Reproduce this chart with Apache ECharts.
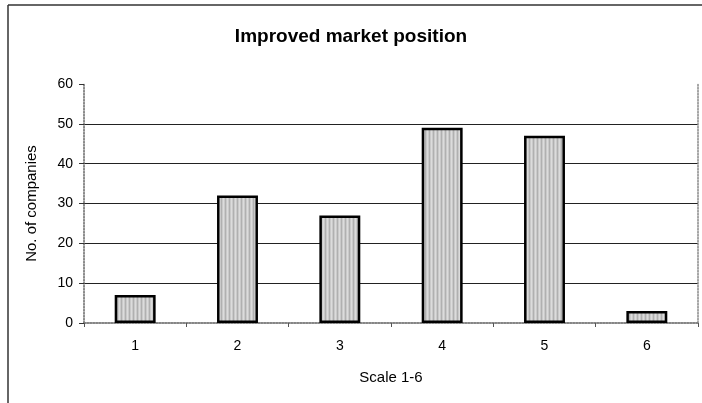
<!DOCTYPE html>
<html>
<head>
<meta charset="utf-8">
<script src="https://cdn.jsdelivr.net/npm/echarts@6/dist/echarts.min.js"></script>
<style>
html,body{margin:0;padding:0;background:#fff;}
#chart{width:702px;height:403px;}
</style>
</head>
<body>
<div id="chart"></div>
<script>
const categories = ['1', '2', '3', '4', '5', '6'];
const companies = [7, 32, 27, 49, 47, 3];
const yTicks = [0, 10, 20, 30, 40, 50, 60];

// Striped gray fill for the bars
function stripePattern() {
  const c = document.createElement('canvas');
  c.width = 4; c.height = 4;
  const g = c.getContext('2d');
  g.fillStyle = '#cacaca';
  g.fillRect(0, 0, 4, 4);
  g.fillStyle = '#b0b0b0';
  g.fillRect(1, 0, 1, 4);
  g.fillStyle = '#dcdcdc';
  g.fillRect(3, 0, 1, 4);
  return c;
}

const font = 'Liberation Sans, Arial, sans-serif';
const chart = echarts.init(document.getElementById('chart'));
chart.setOption({
  animation: false,
  backgroundColor: '#fff',
  title: {
    text: 'Improved market position',
    left: 'center',
    top: 22,
    textStyle: { fontFamily: font, fontSize: 19, fontWeight: 'bold', color: '#000' }
  },
  grid: { left: 84, right: 4, top: 84, bottom: 80 },
  xAxis: [{
    type: 'category',
    data: categories,
    name: 'Scale 1-6',
    nameLocation: 'middle',
    nameGap: 47,
    nameTextStyle: { fontFamily: font, fontSize: 15, color: '#000' },
    axisLine: { lineStyle: { color: '#555', type: 'dotted', width: 1.5 } },
    axisTick: { show: true, length: 4, lineStyle: { color: '#555' } },
    axisLabel: { fontFamily: font, fontSize: 14, color: '#000', margin: 16 }
  }, {
    type: 'category',
    data: categories,
    position: 'top',
    axisLine: { lineStyle: { color: '#888', type: 'dotted', width: 1.5 } },
    axisTick: { show: false },
    axisLabel: { show: false }
  }],
  yAxis: [{
    type: 'value',
    min: yTicks[0],
    max: yTicks[yTicks.length - 1],
    interval: 10,
    name: 'No. of companies',
    nameLocation: 'middle',
    nameGap: 45,
    nameTextStyle: { fontFamily: font, fontSize: 15, color: '#000' },
    axisLine: { show: true, lineStyle: { color: '#666', type: 'dotted', width: 1.5 } },
    axisTick: { show: true, length: 5, lineStyle: { color: '#333' } },
    axisLabel: { fontFamily: font, fontSize: 14, color: '#000', margin: 11 },
    splitLine: { show: true, lineStyle: { color: ['transparent', '#222', '#222', '#222', '#222', '#222', 'transparent'], width: 1 } }
  }, {
    type: 'value',
    min: yTicks[0],
    max: yTicks[yTicks.length - 1],
    interval: 10,
    position: 'right',
    axisLine: { show: true, lineStyle: { color: '#888', type: 'dotted', width: 1.5 } },
    axisTick: { show: false },
    axisLabel: { show: false },
    splitLine: { show: false }
  }],
  series: [{
    type: 'bar',
    data: companies,
    barWidth: '40%',
    itemStyle: {
      color: { image: stripePattern(), repeat: 'repeat' },
      borderColor: '#000',
      borderWidth: 2.5
    }
  }],
  graphic: [
    { type: 'line', shape: { x1: 8, y1: 5, x2: 702, y2: 5 }, style: { stroke: '#333', lineWidth: 1.5 } },
    { type: 'line', shape: { x1: 8, y1: 5, x2: 8, y2: 403 }, style: { stroke: '#333', lineWidth: 1.5 } }
  ]
});
</script>
</body>
</html>
